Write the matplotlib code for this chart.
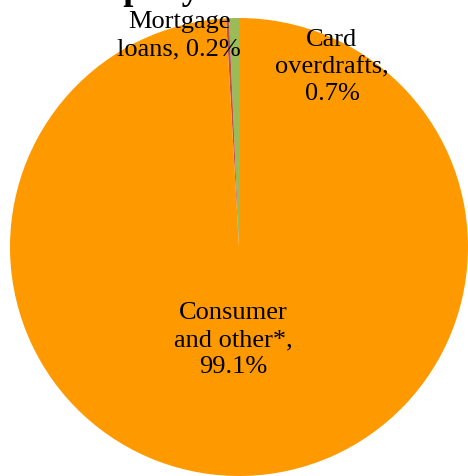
import matplotlib
matplotlib.use("Agg")
import matplotlib.pyplot as plt

# loan structure, share of total (%)
categories = ["Card\noverdrafts", "Mortgage\nloans", "Consumer\nand other*"]
shares = [0.7, 0.2, 99.1]
colors = ["#9BBB59", "#C0504D", "#FF9900"]
label_pos = [(0.406, 0.786), (-0.262, 0.921), (-0.026, -0.406)]
title = "Structure of company loans"

plt.rcParams["font.family"] = ["Liberation Serif", "DejaVu Serif"]

fig = plt.figure(figsize=(4.68, 4.76), dpi=100)
ax = fig.add_axes([10 / 468, 0, 458 / 468, 458 / 476])

wedges, _ = ax.pie(shares, colors=colors, startangle=90, counterclock=True,
                   radius=1, wedgeprops=dict(linewidth=0))
ax.set_xlim(-1, 1)
ax.set_ylim(-1, 1)
ax.set_aspect("equal")
ax.axis("off")

for name, val, (x, y) in zip(categories, shares, label_pos):
    if name.startswith("Mortgage"):
        txt = name + ", " + f"{val}%"
    else:
        txt = name + ",\n" + f"{val}%"
    ax.text(x, y, txt, ha="center", va="center", fontsize=19,
            linespacing=1.32, color="black")

# title is almost entirely above the picture, only descenders show
r = fig.canvas.get_renderer()
tmp = fig.text(0, 0, "Structure of Com", fontsize=26, fontweight="bold")
w = tmp.get_window_extent(r).width
tmp.remove()
fig.text((133 - w) / 468, 1 + 1 / 476, title, ha="left", va="baseline",
         fontsize=26, fontweight="bold")

fig.savefig("out.png", dpi=100)
